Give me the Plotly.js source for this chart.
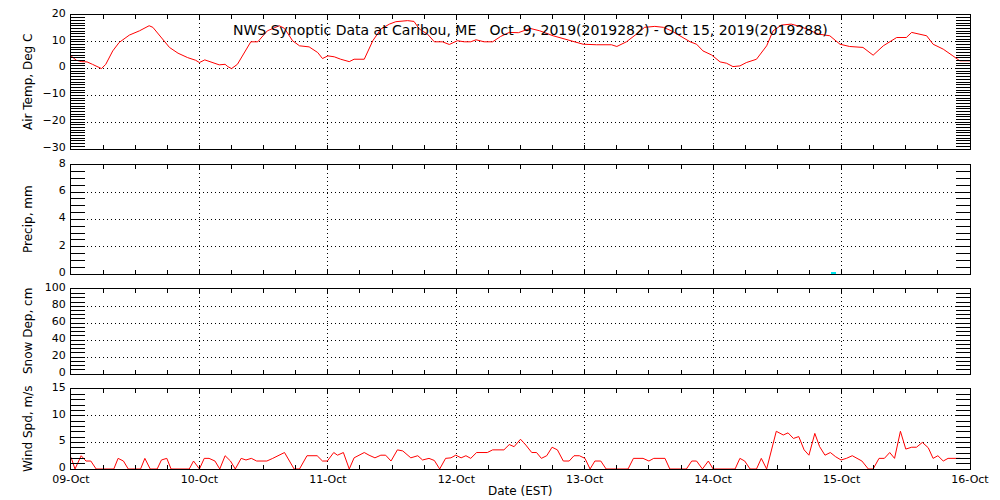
<!DOCTYPE html>
<html>
<head>
<meta charset="utf-8">
<script src="https://cdn.plot.ly/plotly-3.0.1.min.js"></script>
<style>html,body{margin:0;padding:0;background:#fff;}#chart{width:1000px;height:500px;}</style>
</head>
<body>
<div id="chart"></div>
<script>
// Hours since 2019-10-09 00:00 EST
const tempHours = [0,1,2,3,4,5.7,6.5,7.8,9,10.9,12.8,14.6,15.3,16.8,18.4,20,21.8,23.3,24,25,26,27.7,28.8,29.3,30,31.1,33.6,34.9,36.7,38.9,39.9,41.4,42.7,44.5,46.1,47,48,49.2,50.4,52,52.9,54.8,56.4,57.9,59.5,60.7,62.9,64.1,65.1,66.6,67.9,69.4,70.7,72.2,73.5,74.7,75.7,77.2,78.8,80.3,81.9,83.6,85.8,87.6,90.1,93.2,95.7,98.2,101,102,103.8,105.7,107.2,109.1,110.7,112.2,113.8,115.7,116.9,118.1,119.7,121.3,122.5,123.7,125,126.2,128.1,130,131.2,132.8,134.6,136.2,137.8,139.6,141.8,143.7,145.5,148,149.9,151.8,154.3,156.1,157.1,159.9,161.1,163,164.8,166.1,168];
const tempVals  = [4.75,3.1,2.6,2.5,1.6,0,1.6,6.6,9.75,12.5,14.1,16,15.4,11.6,7.9,5.75,4.1,3.1,2.25,3.25,2.5,1.4,1.6,0.75,0,1.6,10,10,14.1,16,15,10.4,8.5,8.1,6,3.75,4.75,4.4,3.5,2.6,3.5,3.5,10.4,14.75,16.6,17.5,17.9,17.6,14.75,12.9,10,10,9,10.4,10,10,10.75,10,10,12,13.5,13.4,15,14.1,12.25,10.4,9.1,8.9,8.9,8.25,10,12.9,15.4,15.75,15.4,14.1,12.25,10,9.1,6.6,5.1,2.5,2,0.75,1,2.25,3.5,8.5,14.1,16.25,16.6,15.75,14.5,12.9,12.25,9.1,8.25,7.9,5,8.5,11.6,11.6,13.5,12.25,9.1,7.25,4.75,2.9,2.9];

const precipHours = [142.5];
const precipVals  = [0.15];

const snowHours = [];
const snowVals  = [];

const windHours = [0,0.75,1.9,2.8,3.7,4.7,8,8.8,9.8,10.7,13,13.8,14.8,16.1,16.9,17.9,18.7,22.1,22.9,24,24.9,25.8,26.9,27.8,28.8,29.8,30.7,31.8,32.7,33.7,34.7,36.6,37.7,38.6,39.9,41.7,42.7,44.1,46,47,47.9,49.1,49.8,50.9,52,52.9,53.9,54.8,55.7,56.8,57.9,58.8,59.8,61,62,63.5,64.8,65.7,66.9,67.9,68.9,70,71,71.9,72.9,73.8,74.7,75.8,77.8,78.8,80.9,81.9,82.8,84,85,86.1,87,87.9,88.9,89.9,90.9,92,93.1,94,95,96.05,97,97.9,99,100,104.1,105.1,106.9,108,108.9,111,111.9,115,116,116.9,118,119.1,120,124.1,125,125.9,126.9,128.1,129,130,131.8,133.1,134,135,136,137,137.9,139,139.9,140.9,141.9,142.9,143.9,144.9,146,146.9,147.8,149,149.9,151,152,153,153.9,155,156,157.1,158,159.1,160.2,161.1,162,163,163.9,166.2];
const windVals  = [2.2,0,2.5,1.5,1.5,0,0,2,1.5,0,0,2,0,0,1.7,2,0,0,1.5,0,2,2,1.5,0,2.5,1.5,0,2,1.7,2,1.5,1.5,2,2.5,3.1,0,0,2.5,2.5,1.5,1.5,3.1,2.6,3.1,0,2.1,2.6,3.1,2.6,2.1,2.6,2.6,1.5,3.6,3.4,2.1,2.5,1.7,2,1.6,0,2,2.1,2.6,2.1,2.5,2,3.1,3.1,3.6,3.6,4.6,4.2,5.6,4.5,3.1,3.1,2,2.5,4.1,3.6,1.5,1.5,2.5,2.5,2,0,1.5,1.5,0,0,2,2,1.5,2,2,0,0,1.5,1.5,0,1.5,0,0,2,1.5,0,0,2,0,7.1,6.4,6.8,5.75,6.1,3.6,2.6,6.7,4.2,2.6,3.1,2.3,1.7,2,2.5,2,1.5,0,0,2,2,3.1,2,7.1,3.75,4.1,4.1,5,4,2,2.5,1.5,2,2];

const dayTicks = ['09-Oct','10-Oct','11-Oct','12-Oct','13-Oct','14-Oct','15-Oct','16-Oct'];
const titleText = 'NWS Synoptic Data at Caribou, ME\u00a0\u00a0\u00a0Oct\u00a0\u00a09, 2019(2019282) - Oct 15, 2019(2019288)';
const yTitles = ['Air Temp, Deg C','Precip, mm','Snow Dep, cm','Wind Spd, m/s'];

const t0 = Date.UTC(2019, 9, 9);
function toDate(h){ return new Date(t0 + h*3600000).toISOString().replace('T',' ').slice(0,19); }
const dayVals = dayTicks.map((_,i)=>toDate(i*24));

const FONT = 'DejaVu Sans, Liberation Sans, sans-serif';
const DOT = '1px,3px';

const traces = [
  {x: tempHours.map(toDate), y: tempVals, type:'scatter', mode:'lines', line:{color:'#ff0000', width:1}, xaxis:'x', yaxis:'y', hoverinfo:'skip'},
  {x: precipHours.map(toDate), y: precipVals, type:'bar', marker:{color:'#00e5ee', line:{width:0}}, width:3600000, xaxis:'x2', yaxis:'y2', hoverinfo:'skip'},
  {x: snowHours.map(toDate), y: snowVals, type:'scatter', mode:'lines', line:{color:'#ff0000', width:1}, xaxis:'x3', yaxis:'y3', hoverinfo:'skip'},
  {x: windHours.map(toDate), y: windVals, type:'scatter', mode:'lines', line:{color:'#ff0000', width:1}, xaxis:'x4', yaxis:'y4', hoverinfo:'skip'}
];

const L = 71, R = 970, T = 15, B = 469, H = B - T, W = R - L;
const py = p => (B - p)/H;
const px = p => (p - L)/W;
const domains = [[py(149), 1], [py(274), py(164.7)], [py(374), py(289.3)], [0, py(389.3)]];

function xax(i){
  return {
    type:'date', range:[dayVals[0], dayVals[7]], anchor: i===1?'y':'y'+i,
    tickvals: dayVals, ticktext: dayTicks, showticklabels: i===4,
    ticks:'inside', ticklen:4, tickcolor:'#000', tickwidth:1,
    minor:{ticks:'inside', ticklen:4, dtick:6*3600000, tickcolor:'#000', showgrid:false},
    showgrid:true, gridcolor:'#000', gridwidth:1, griddash:DOT,
    showline:true, linecolor:'#000', linewidth:1, mirror:'ticks',
    zeroline:false, tickfont:{family:FONT, size:11, color:'#000'}, fixedrange:true
  };
}
function yax(i, range, dtick, minor){
  return {
    domain: domains[i-1], anchor: i===1?'x':'x'+i, range: range, dtick: dtick, tick0: 0,
    ticks:'inside', ticklen:14, tickcolor:'#000', tickwidth:1,
    minor:{ticks:'inside', ticklen:14, dtick: minor, tickcolor:'#000', showgrid:false},
    showgrid:true, gridcolor:'#000', gridwidth:1, griddash:DOT,
    showline:true, linecolor:'#000', linewidth:1, mirror:'ticks',
    zeroline:false, tickfont:{family:FONT, size:11, color:'#000'}, ticklabelstandoff:2, ticklabelshift:-2, fixedrange:true
  };
}

const annotations = [
  {text:titleText, xref:'paper', yref:'paper', x:px(530), y:py(30), showarrow:false, xanchor:'center', yanchor:'middle', font:{family:FONT, size:14, color:'#000'}},
  {text:'Date (EST)', xref:'paper', yref:'paper', x:px(520), y:py(491), showarrow:false, xanchor:'center', yanchor:'middle', font:{family:FONT, size:12, color:'#000'}}
];
const titleCenters = [82, 219, 331, 429];
yTitles.forEach((t,i)=>annotations.push({text:t, xref:'paper', yref:'paper', x:px(28), y:py(titleCenters[i]), showarrow:false, textangle:-90, xanchor:'center', yanchor:'middle', font:{family:FONT, size:12, color:'#000'}}));

const layout = {
  width:1000, height:500, margin:{l:L, r:1000-R, t:T, b:500-B},
  paper_bgcolor:'#fff', plot_bgcolor:'#fff', showlegend:false, bargap:0,
  xaxis: xax(1), xaxis2: xax(2), xaxis3: xax(3), xaxis4: xax(4),
  yaxis: yax(1, [-30,20], 10, 1),
  yaxis2: yax(2, [0,8], 2, 0.5),
  yaxis3: yax(3, [0,100], 20, 5),
  yaxis4: yax(4, [0,15], 5, 1),
  annotations: annotations
};

Plotly.newPlot('chart', traces, layout, {staticPlot:true, displayModeBar:false});
</script>
</body>
</html>
